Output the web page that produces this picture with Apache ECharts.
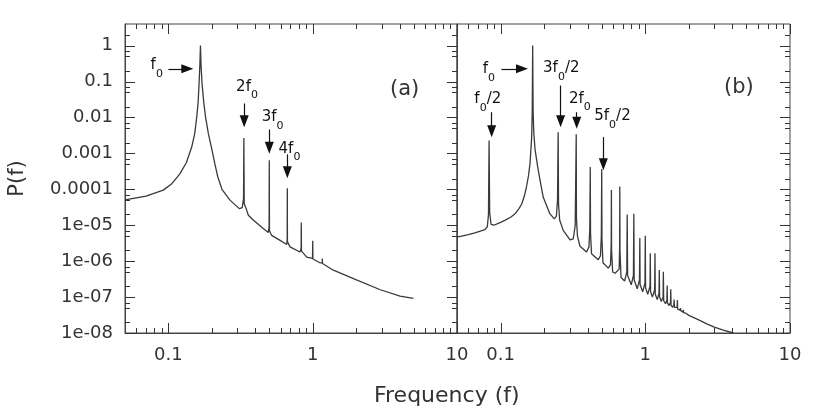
<!DOCTYPE html>
<html>
<head>
<meta charset="utf-8">
<script src="https://cdn.jsdelivr.net/npm/echarts@6/dist/echarts.min.js"></script>
<style>
  html, body { margin: 0; padding: 0; background: #fff; }
  #chart { width: 830px; height: 416px; }
</style>
</head>
<body>
<div id="chart"></div>
<script>
// panel (a): spectrum with harmonics n*f0
var freqA = [0.05, 0.07, 0.092, 0.105, 0.12, 0.133, 0.145, 0.152, 0.157, 0.1605, 0.163, 0.1652, 0.1667, 0.1682,
  0.171, 0.176, 0.181, 0.189, 0.2, 0.21, 0.22, 0.235, 0.267, 0.31, 0.325, 0.3315, 0.3333, 0.3352, 0.349, 0.358,
  0.387, 0.454, 0.492, 0.4985, 0.5, 0.5015, 0.519, 0.594, 0.66, 0.6655, 0.6667, 0.6679, 0.696, 0.815, 0.831,
  0.8333, 0.8356, 0.91, 0.997, 1.0, 1.003, 1.12, 1.164, 1.1667, 1.169, 1.39, 2.01, 2.94, 4.03, 4.99]
var powerA = [5.1e-5, 6.5e-5, 9.5e-5, 1.4e-4, 2.7e-4, 5.5e-4, 1.5e-3, 3.5e-3, 1.0e-2, 2.5e-2, 8.6e-2, 0.3, 1, 0.3,
  8.6e-2, 2.5e-2, 1.0e-2, 3.6e-3, 1.3e-3, 5.0e-4, 2.2e-4, 1.0e-4, 5.0e-5, 2.9e-5, 3.1e-5, 5.5e-5, 2.7e-3, 4.0e-5, 2.6e-5, 1.9e-5,
  1.4e-5, 8.1e-6, 6.3e-6, 9e-6, 6.4e-4, 7e-6, 5.2e-6, 3.8e-6, 2.9e-6, 4e-6, 1.07e-4, 3.5e-6, 2.5e-6, 1.8e-6, 2.2e-6,
  1.2e-5, 1.9e-6, 1.3e-6, 1.2e-6, 3.7e-6, 1.15e-6, 9e-7, 9e-7, 1.19e-6, 8.6e-7, 5.6e-7, 3.0e-7, 1.6e-7, 1.07e-7, 9.2e-8]

// panel (b): spectrum with half-harmonics n*f0/2
var freqB = [0.05, 0.06, 0.0665, 0.078, 0.081, 0.0825, 0.0833, 0.0841, 0.086, 0.09, 0.1, 0.107, 0.118, 0.126, 0.134,
  0.14, 0.146, 0.151, 0.156, 0.1597, 0.164, 0.1655, 0.1667, 0.1679, 0.1695, 0.173, 0.182, 0.197, 0.219, 0.235,
  0.243, 0.2475, 0.25, 0.2515, 0.256, 0.271, 0.302, 0.318, 0.328, 0.3333, 0.3345, 0.34, 0.354, 0.393, 0.408,
  0.4135, 0.4167, 0.4185, 0.425, 0.473, 0.49, 0.497, 0.5, 0.502, 0.51, 0.555, 0.575, 0.5815, 0.5833, 0.585, 0.595,
  0.618, 0.66, 0.665, 0.6667, 0.6685, 0.68, 0.72, 0.745, 0.75, 0.755, 0.8, 0.828, 0.8333, 0.838, 0.88, 0.912,
  0.9167, 0.921, 0.96, 0.995, 1.0, 1.005, 1.04, 1.078, 1.0833, 1.088, 1.12, 1.161, 1.1667, 1.172, 1.21, 1.244,
  1.25, 1.256, 1.29, 1.327, 1.3333, 1.34, 1.38, 1.41, 1.4167, 1.423, 1.46, 1.493, 1.5, 1.507, 1.545, 1.575,
  1.5833, 1.59, 1.63, 1.66, 1.6667, 1.673, 1.74, 1.75, 1.76, 1.825, 1.833, 1.84, 1.917, 2.0, 2.3, 2.66, 3.0,
  3.46, 4.06]
var powerB = [4.7e-6, 5.5e-6, 6.1e-6, 7.6e-6, 9e-6, 2.0e-5, 2.3e-3, 2.2e-5, 1.05e-5, 1.0e-5, 1.2e-5, 1.36e-5, 1.7e-5, 2.1e-5, 2.9e-5,
  3.9e-5, 6.5e-5, 1.16e-4, 2.4e-4, 5.1e-4, 2.8e-3, 1.5e-2, 1, 1.5e-2, 4e-3, 1.3e-3, 3.4e-4, 6.1e-5, 2.1e-5, 1.5e-5,
  1.8e-5, 5e-5, 3.9e-3, 4e-5, 1.4e-5, 7.2e-6, 3.9e-6, 4.2e-6, 1e-5, 3.4e-3, 1.5e-5, 5e-6, 2.6e-6, 1.8e-6, 2.5e-6,
  8e-6, 4.2e-4, 6e-6, 1.6e-6, 1.1e-6, 1.4e-6, 5e-6, 3.7e-4, 4e-6, 9e-7, 6.4e-7, 8e-7, 3e-6, 9.5e-5, 2e-6, 5e-7,
  4.6e-7, 6e-7, 2.5e-6, 1.2e-4, 2e-6, 3.5e-7, 2.8e-7, 5e-7, 2.0e-5, 4e-7, 2.2e-7, 4e-7, 2.1e-5, 3e-7, 1.7e-7, 3e-7,
  4.4e-6, 2.2e-7, 1.4e-7, 2.5e-7, 5.1e-6, 1.8e-7, 1.2e-7, 2e-7, 1.65e-6, 1.4e-7, 1e-7, 1.6e-7, 1.65e-6, 1.2e-7, 8.5e-8, 1.3e-7,
  5.7e-7, 1e-7, 7.5e-8, 1e-7, 5.1e-7, 8e-8, 6.5e-8, 8e-8, 2.1e-7, 7e-8, 5.8e-8, 7e-8, 1.65e-7, 6e-8, 5.2e-8, 6e-8,
  8.6e-8, 5.2e-8, 4.7e-8, 5.2e-8, 8.3e-8, 4.6e-8, 4.3e-8, 4.9e-8, 4.2e-8, 3.8e-8, 4.4e-8, 3.7e-8, 3.5e-8, 3.1e-8, 2.4e-8, 1.8e-8, 1.45e-8,
  1.2e-8, 1.0e-8]

// axis ranges and ticks
var xMin = 0.05, xMax = 10
var yMin = 1e-8, yMax = 4
var xMajor = [0.1, 1, 10]
var xTickLabels = ['0.1', '1', '10']
var xMinor = [0.06, 0.07, 0.08, 0.09, 0.2, 0.3, 0.4, 0.5, 0.6, 0.7, 0.8, 0.9, 2, 3, 4, 5, 6, 7, 8, 9]
var yMajor = [1, 0.1, 0.01, 0.001, 0.0001, 1e-5, 1e-6, 1e-7, 1e-8]
var yTickLabels = ['1', '0.1', '0.01', '0.001', '0.0001', '1e-05', '1e-06', '1e-07', '1e-08']
var yMinor = [2e-8, 5e-8, 7e-8, 2e-7, 5e-7, 7e-7, 2e-6, 5e-6, 7e-6, 2e-5, 5e-5, 7e-5, 2e-4, 5e-4, 7e-4,
  0.002, 0.005, 0.007, 0.02, 0.05, 0.07, 0.2, 0.5, 0.7, 2]

// annotations: arrows [fromF, fromP, toF, toP] and labels [text, f, P]
var arrowsA = [[0.1, 0.2254, 0.1352, 0.2254], [0.335, 0.0245, 0.335, 7.9e-3],
  [0.5, 4.64e-3, 0.5, 1.44e-3], [0.667, 9.4e-4, 0.667, 2.97e-4]]
var labelsA = [['{m|f}{s|0}', 0.083, 0.278], ['{m|2f}{s|0}', 0.3505, 0.0713],
  ['{m|3f}{s|0}', 0.528, 0.01], ['{m|4f}{s|0}', 0.69, 1.33e-3]]
var arrowsB = [[0.1014, 0.2254, 0.1406, 0.2254], [0.0868, 0.014, 0.0868, 4.16e-3],
  [0.26, 0.0774, 0.26, 7.9e-3], [0.336, 0.014, 0.336, 7.1e-3], [0.513, 2.84e-3, 0.513, 4.95e-4]]
var labelsB = [['{m|f}{s|0}', 0.0831, 0.218], ['{m|f}{s|0}{m|/2}', 0.0816, 0.0316],
  ['{m|3f}{s|0}{m|/2}', 0.2627, 0.234], ['{m|2f}{s|0}', 0.3537, 0.0331], ['{m|5f}{s|0}{m|/2}', 0.5933, 0.0108]]

var font = 'DejaVu Sans'
var axisColor = '#444'
var textColor = '#333'

function isPow10(v) {
  var l = Math.log10(v)
  return Math.abs(l - Math.round(l)) < 1e-6
}

function xLabel(v) {
  if (!isPow10(v)) return ''
  var s = xTickLabels[Math.round(Math.log10(v)) + 1]
  return s == null ? '' : s
}

function yLabel(v) {
  if (!isPow10(v)) return ''
  var s = yTickLabels[-Math.round(Math.log10(v))]
  return s == null ? '' : s
}

function logAxis(g, isX, label) {
  var ax = {
    type: 'log',
    logBase: 10,
    gridIndex: g,
    position: isX ? 'bottom' : 'left',
    min: isX ? xMin : yMin,
    max: isX ? xMax : yMax,
    axisLine: { show: true, onZero: false, lineStyle: { color: axisColor, width: 1 } },
    splitLine: { show: false },
    axisTick: { show: false },
    axisLabel: { show: false }
  }
  if (label) {
    ax.axisLabel = {
      show: true,
      customValues: isX ? xMajor : yMajor,
      formatter: isX ? xLabel : yLabel,
      fontFamily: font,
      fontSize: 18,
      color: textColor,
      margin: isX ? 13 : 12
    }
  }
  return ax
}

function tickLine(x1, y1, x2, y2) {
  return { type: 'line', shape: { x1: x1, y1: y1, x2: x2, y2: y2 }, style: { stroke: '#333', lineWidth: 1 } }
}

// inward ticks on bottom + top edges, placed through the grid's own axes
function xTicks(gi, values, len) {
  return {
    type: 'custom', xAxisIndex: gi, yAxisIndex: gi, silent: true, animation: false, clip: false, z: 5,
    data: values.map(function (v) { return [v, 1e-4] }),
    renderItem: function (params, api) {
      var v = api.value(0)
      var b = api.coord([v, yMin])
      var t = api.coord([v, yMax])
      var x = Math.round(b[0]) + 0.5
      return {
        type: 'group',
        children: [tickLine(x, b[1], x, b[1] - len), tickLine(x, t[1], x, t[1] + len)]
      }
    }
  }
}

// inward ticks on the right (and optionally left) edge
function yTicks(gi, values, len, withLeft) {
  return {
    type: 'custom', xAxisIndex: gi, yAxisIndex: gi, silent: true, animation: false, clip: false, z: 5,
    data: values.map(function (v) { return [1, v] }),
    renderItem: function (params, api) {
      var v = api.value(1)
      var l = api.coord([xMin, v])
      var r = api.coord([xMax, v])
      var y = Math.round(l[1]) + 0.5
      var ch = [tickLine(r[0], y, r[0] - len, y)]
      if (withLeft) ch.push(tickLine(l[0], y, l[0] + len, y))
      return { type: 'group', children: ch }
    }
  }
}

var rich = {
  m: { fontFamily: font, fontSize: 15, color: '#111', lineHeight: 28, verticalAlign: 'middle' },
  s: { fontFamily: font, fontSize: 11, color: '#111', lineHeight: 14, verticalAlign: 'bottom' }
}

function annotate(arrows, labels) {
  return {
    markLine: {
      silent: true,
      animation: false,
      symbol: ['none', 'triangle'],
      symbolSize: [9, 12],
      label: { show: false },
      lineStyle: { color: '#111', width: 1.2, type: 'solid' },
      itemStyle: { color: '#111' },
      data: arrows.map(function (a) {
        return [{ coord: [a[0], a[1]] }, { coord: [a[2], a[3]] }]
      })
    },
    markPoint: {
      silent: true,
      animation: false,
      symbol: 'rect',
      symbolSize: 1,
      itemStyle: { color: 'rgba(0,0,0,0)' },
      label: {
        show: true,
        position: 'inside',
        formatter: function (p) { return p.name },
        rich: rich
      },
      data: labels.map(function (l) {
        return { name: l[0], coord: [l[1], l[2]] }
      })
    }
  }
}

function spectrum(freq, power, gi, arrows, labels) {
  return Object.assign({
    type: 'line',
    xAxisIndex: gi,
    yAxisIndex: gi,
    data: freq.map(function (f, i) { return [f, power[i]] }),
    symbol: 'none',
    showSymbol: false,
    clip: true,
    lineStyle: { color: '#3a3a3a', width: 1.3 },
    animation: false
  }, annotate(arrows, labels))
}

var yA = Object.assign(logAxis(0, false, true), {
  name: 'P(f)', nameLocation: 'middle', nameGap: 97,
  nameTextStyle: { fontFamily: font, fontSize: 21, color: textColor }
})

var chart = echarts.init(document.getElementById('chart'), null, { renderer: 'canvas' })
chart.setOption({
  animation: false,
  backgroundColor: '#fff',
  grid: [
    { left: 125, right: 373, top: 24, bottom: 83, show: true, borderColor: axisColor, borderWidth: 1 },
    { left: 457, right: 40, top: 24, bottom: 83, show: true, borderColor: axisColor, borderWidth: 1 }
  ],
  xAxis: [logAxis(0, true, true), logAxis(1, true, true)],
  yAxis: [yA, logAxis(1, false, false)],
  series: [
    spectrum(freqA, powerA, 0, arrowsA, labelsA),
    spectrum(freqB, powerB, 1, arrowsB, labelsB),
    xTicks(0, xMajor, 10), xTicks(0, xMinor, 5),
    yTicks(0, yMajor, 10, true), yTicks(0, yMinor, 5, true),
    xTicks(1, xMajor, 10), xTicks(1, xMinor, 5),
    yTicks(1, yMajor, 10, false), yTicks(1, yMinor, 5, false)
  ],
  graphic: [
    { type: 'text', left: 374, top: 385, style: { text: 'Frequency (f)', font: '22px "DejaVu Sans"', fill: textColor } },
    { type: 'text', left: 390, top: 79, style: { text: '(a)', font: '21px "DejaVu Sans"', fill: textColor } },
    { type: 'text', left: 724, top: 77, style: { text: '(b)', font: '21px "DejaVu Sans"', fill: textColor } }
  ]
})
</script>
</body>
</html>
